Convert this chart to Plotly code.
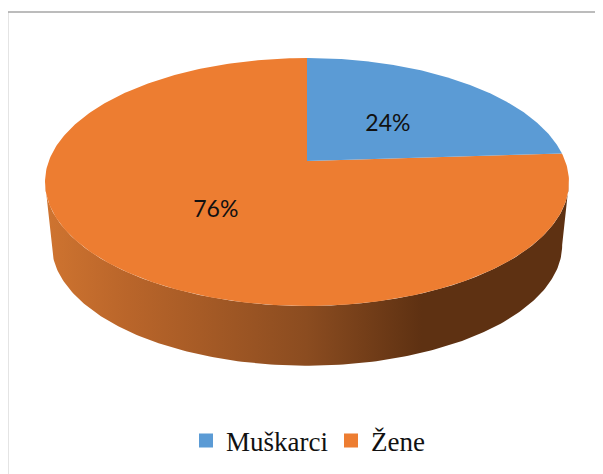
import numpy as np
import plotly.graph_objects as go

categories = ["Muškarci", "Žene"]
values = [24, 76]
colors = ["#5B9BD5", "#ED7D31"]

W, H = 603, 474
PAGE_MARGIN = 8        # the browser's default body margin
CX, CY = 307, 161      # slice apex in pixels
RX, RY = 258.2, 120.4  # projected radii
K = 0.1694             # perspective strength
ELL_CY = 182           # y of the rim's widest point
WALL_CY, WALL_S = 245, 0.974


def project(theta, r=1.0):
    """theta: clockwise from twelve o'clock, in radians."""
    X, Y = r * np.sin(theta), r * np.cos(theta)
    w = 1 + K * Y
    return CX + RX * X / w, CY - RY * Y / w


def wall(px, py):
    return CX + WALL_S * (px - CX), WALL_CY + WALL_S * (py - ELL_CY)


fractions = np.array(values) / sum(values)
edges = np.concatenate([[0], np.cumsum(fractions)]) * 2 * np.pi

fig = go.Figure()

# Side wall: front of the rim, from right extreme to left extreme
th = np.linspace(np.pi / 2 + np.arcsin(K), 3 * np.pi / 2 - np.arcsin(K), 200)
tx, ty = project(th)
bx, by = wall(tx, ty)
fig.add_trace(go.Scatter(
    x=np.concatenate([tx, bx[::-1]]), y=np.concatenate([ty, by[::-1]]),
    mode="lines", line=dict(width=0), fill="toself",
    fillgradient=dict(type="horizontal", start=45, stop=568, colorscale=[
        [0, "#cf7430"], [0.16, "#b9652a"], [0.5, "#8b4c20"],
        [0.72, "#5e3112"], [1, "#5e3112"]]),
    hoverinfo="skip", showlegend=False))

# Top face (largest slice first so the small one sits above it)
for i in [1, 0]:
    th = np.linspace(edges[i], edges[i + 1], 300)
    sx, sy = project(th)
    fig.add_trace(go.Scatter(
        x=np.concatenate([[CX], sx, [CX]]), y=np.concatenate([[CY], sy, [CY]]),
        mode="lines", line=dict(width=0, color=colors[i]), fill="toself",
        fillcolor=colors[i], name=categories[i], hoverinfo="name", showlegend=False))

# Percent labels
mid = (edges[:-1] + edges[1:]) / 2
lx, ly = project(mid, 0.485)
fig.add_trace(go.Scatter(
    x=lx, y=ly + 4.5, mode="text", text=[f"{v}%" for v in values],
    textfont=dict(family="Lato", size=23, color="#111111"),
    hoverinfo="skip", showlegend=False))

# Legend entries
for c, col in zip(categories, colors):
    fig.add_trace(go.Scatter(
        x=[None], y=[None], mode="markers", name=c,
        marker=dict(symbol="square", size=14, color=col)))

fig.update_layout(
    width=W, height=H, autosize=False,
    margin=dict(l=0, r=0, t=0, b=0),
    paper_bgcolor="white", plot_bgcolor="white",
    xaxis=dict(range=[PAGE_MARGIN, W + PAGE_MARGIN], visible=False, fixedrange=True),
    yaxis=dict(range=[H + PAGE_MARGIN, PAGE_MARGIN], visible=False, fixedrange=True),
    legend=dict(orientation="h", x=(186 - PAGE_MARGIN) / W, xanchor="left",
                y=1 - (441 - PAGE_MARGIN) / H, yanchor="middle",
                entrywidth=100, entrywidthmode="pixels",
                font=dict(family="Liberation Serif", size=27, color="#111111"),
                bgcolor="rgba(0,0,0,0)", itemclick=False, itemdoubleclick=False),
    shapes=[
        dict(type="line", x0=7.5, x1=7.5, y0=12, y1=H + PAGE_MARGIN, line=dict(color="#a6a6a6", width=1.6)),
        dict(type="line", x0=7, x1=W + PAGE_MARGIN, y0=12, y1=12, line=dict(color="#a6a6a6", width=1.6)),
    ],
)
fig.write_html("out.html")
